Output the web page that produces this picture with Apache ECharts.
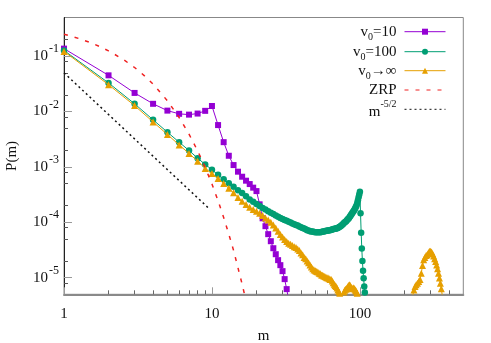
<!DOCTYPE html>
<html><head><meta charset="utf-8">
<script src="https://cdn.jsdelivr.net/npm/echarts@6/dist/echarts.min.js"></script>
<style>html,body{margin:0;padding:0;background:#fff}#c{width:491px;height:343px}</style>
</head><body><div id="c"></div>
<script>
// ---- data ----
const mV10 = [1,2,3,4,5,6,7,8,9,10,11,12,13,14,15,16,17,18,19,20,21,22,23,24,25,26,27,28,29,30,31,32,33];
const pV10 = [0.137,0.0451,0.0217,0.0138,0.0104,0.0091,0.0088,0.0092,0.0103,0.0126,0.0057,0.0028,0.00159,0.00108,0.00082,0.000665,0.000564,0.00049,0.000422,0.000366,2.11e-4,1.18e-4,8.5e-5,6.1e-5,4.55e-5,3.4e-5,2.65e-5,2.07e-5,1.68e-5,1.31e-5,9.4e-6,6.2e-6,4.0e-6];

const mV100 = [1,2,3,4,5,6,7,8,9,10,11,12,13,14,15,16,17,18,19,20,21,22,23,24,25,26,27,28,29,30,31,32,33,34,35,36,37,38,39,40,41,42,43,44,45,46,47,48,49,50,51,52,53,54,55,56,57,58,59,60,61,62,63,64,65,66,67,68,69,70,71,72,73,74,75,76,77,78,79,80,81,82,83,84,85,86,87,88,89,90,91,92,93,94,95,96,97,98,99,100,101,102,103,104,105,106,107,108];
const pV100 = [0.127,0.0329,0.0138,0.0071,0.00424,0.0028,0.00198,0.00144,0.00111,0.00089,0.00072,0.000596,0.000505,0.00044,
 3.80e-4,3.39e-4,2.95e-4,2.59e-4,2.34e-4,2.14e-4,1.97e-4,1.82e-4,1.70e-4,1.58e-4,
 1.48e-4,1.41e-4,1.33e-4,1.26e-4,1.20e-4,1.15e-4,1.10e-4,1.06e-4,1.02e-4,9.9e-5,
 9.5e-5,9.2e-5,8.9e-5,8.7e-5,8.4e-5,8.1e-5,7.9e-5,7.7e-5,7.5e-5,7.2e-5,
 7.1e-5,6.9e-5,6.8e-5,6.8e-5,6.7e-5,6.6e-5,
 6.6e-5,6.6e-5,6.6e-5,6.6e-5,6.7e-5,6.8e-5,6.8e-5,6.9e-5,7.0e-5,7.0e-5,
 7.1e-5,7.2e-5,7.2e-5,7.3e-5,7.4e-5,7.5e-5,7.6e-5,7.6e-5,7.7e-5,7.8e-5,
 7.9e-5,8.1e-5,8.3e-5,8.5e-5,8.7e-5,9.0e-5,9.3e-5,9.7e-5,1.0e-4,1.02e-4,
 1.05e-4,1.10e-4,1.14e-4,1.17e-4,1.23e-4,1.29e-4,1.35e-4,1.41e-4,1.48e-4,1.55e-4,
 1.62e-4,1.70e-4,1.80e-4,1.91e-4,2.04e-4,2.24e-4,2.51e-4,2.82e-4,3.16e-4,3.55e-4,
 1.45e-4,6.5e-5,3.36e-5,2.0e-5,1.33e-5,9.7e-6,6.9e-6,5.4e-6];

const mInf = [1,2,3,4,5,6,7,8,9,10,11,12,13,14,15,16,17,18,19,20,21,22,23,24,25,26,27,28,29,30,31,32,33,34,35,36,37,38,39,40,41,42,43,44,45,46,47,48,49,50,51,52,53,54,55,56,57,58,59,60,61,62,63,64,65,66,67,68,69,70,71,72,73,74,75,76,77,78,79,80,81,82,83,84,85,86,87,88,89,90,91,92,93,94,95,96,97,98];
const pInf = [0.122,0.0306,0.0128,0.0065,0.00385,0.0025,0.00175,0.00127,0.00094,0.00076,
 6.2e-4,5.0e-4,4.1e-4,3.4e-4,2.8e-4,2.4e-4,2.1e-4,1.86e-4,1.70e-4,1.58e-4,
 1.45e-4,1.32e-4,1.20e-4,1.10e-4,1.00e-4,8.9e-5,7.9e-5,6.9e-5,6.0e-5,5.4e-5,
 4.9e-5,4.5e-5,4.2e-5,4.0e-5,3.8e-5,3.6e-5,3.5e-5,3.3e-5,3.1e-5,2.8e-5,
 2.6e-5,2.3e-5,2.2e-5,2.0e-5,1.86e-5,1.70e-5,1.55e-5,1.45e-5,1.38e-5,1.33e-5,
 1.29e-5,1.26e-5,1.20e-5,1.17e-5,1.12e-5,1.10e-5,1.07e-5,1.05e-5,1.02e-5,1.00e-5,
 9.8e-6,9.5e-6,9.3e-6,9.3e-6,8.7e-6,8.1e-6,7.6e-6,7.2e-6,6.9e-6,6.5e-6,
 6.0e-6,5.6e-6,5.2e-6,4.0e-6,3.2e-6,3.5e-6,4.7e-6,5.5e-6,5.9e-6,6.2e-6,
 6.3e-6,6.6e-6,6.9e-6,7.2e-6,7.4e-6,7.2e-6,6.8e-6,6.5e-6,6.3e-6,6.5e-6,
 6.5e-6,6.3e-6,6.0e-6,5.8e-6,5.5e-6,5.2e-6,4.8e-6,4.0e-6];
const mInfFar = [228,232,236,240,245,250,255,260,265,270,275,280,285,290,295,300,305,310,315,320,325,330,335,340,345,350,355,360];
const pInfFar = [4.8e-6,6.0e-6,6.9e-6,7.4e-6,7.9e-6,8.5e-6,9.3e-6,1.20e-5,1.66e-5,2.1e-5,2.3e-5,2.5e-5,2.6e-5,2.8e-5,3.0e-5,3.0e-5,2.9e-5,2.7e-5,2.45e-5,2.2e-5,1.95e-5,1.70e-5,1.45e-5,1.20e-5,9.8e-6,7.9e-6,6.3e-6,4.9e-6];

const mZRP = [1,1.25,1.5,1.75,2,2.5,3,3.5,4,5,6,7,8,9,10,11,12,13,14,15,16,17];
const pZRP = [0.25,0.21,0.177,0.149,0.125,0.0884,0.0625,0.0442,0.0313,0.0157,0.0078,0.0039,0.00196,9.8e-4,4.9e-4,2.45e-4,1.22e-4,6.1e-5,3.1e-5,1.5e-5,7.6e-6,3.8e-6];

const mPow = [1, 9.6];
const pPow = [0.05, 1.75e-4];

const xMajorTicks = [1,10,100];
const xMinorTicks = [2,3,4,5,6,7,8,9,20,30,40,50,60,70,80,90,200,300,400];
const yMajorTicks = [1e-5,1e-4,1e-3,1e-2,1e-1];
const yMinorTicks = [8e-6,2e-5,5e-5,8e-5,2e-4,5e-4,8e-4,2e-3,5e-3,8e-3,2e-2,5e-2,8e-2,2e-1];

const seriesNames = ['v0=10','v0=100','v0→∞','ZRP','m^-5/2'];
const legendRich = {
  'v0=10': '{n|v}{sub|0}{n|=10}',
  'v0=100': '{n|v}{sub|0}{n|=100}',
  'v0→∞': '{n|v}{sub|0}{n|→∞}',
  'ZRP': '{n|ZRP}',
  'm^-5/2': '{m|m}{sup|-5/2}'
};

// ---- chart ----
const FONT = 'Liberation Serif';
const pair = (xs, ys) => xs.map((x, i) => [x, ys[i]]);
const chart = echarts.init(document.getElementById('c'), null, {renderer: 'canvas'});

const LH = 24;
const richStyles = {
  n: {fontFamily: FONT, fontSize: 15, color: '#111', lineHeight: LH},
  sub: {fontFamily: FONT, fontSize: 10, color: '#111', padding: [11, 0, 0, 0], lineHeight: LH},
  m: {fontFamily: FONT, fontSize: 15, color: '#111', padding: [6, 0, 0, 0], lineHeight: LH},
  sup: {fontFamily: FONT, fontSize: 10, color: '#111', padding: [0, 0, 9, 0], lineHeight: LH}
};
const rowY = [31.7, 51.7, 70.7, 90, 109.3];
const legends = seriesNames.map((nm, i) => ({
  data: [nm],
  orient: 'vertical',
  align: 'right',
  right: 45,
  top: rowY[i] - LH / 2,
  padding: 0,
  itemWidth: 41,
  itemHeight: 7.5,
  selectedMode: false,
  formatter: (name) => legendRich[name],
  lineStyle: {width: 1},
  itemStyle: i >= 3 ? {opacity: 0} : {},
  textStyle: {fontFamily: FONT, fontSize: 15, color: '#111', lineHeight: LH, padding: [0, 3, 0, 0], rich: richStyles}
}));

const xBase = {
  type: 'log', min: 1, max: 500, logBase: 10,
  splitLine: {show: false}, minorTick: {show: false}
};
const yBase = {
  type: 'log', min: 5e-6, max: 0.5, logBase: 10,
  splitLine: {show: false}, minorTick: {show: false}
};

chart.setOption({
  animation: false,
  backgroundColor: '#fff',
  grid: {left: 64, right: 27.7, top: 17.5, bottom: 48.7, show: true, borderColor: '#888', borderWidth: 1,
    containLabel: false, outerBoundsMode: 'none'},
  legend: legends,
  xAxis: [
    Object.assign({}, xBase, {
      position: 'bottom',
      name: 'm', nameLocation: 'middle', nameGap: 34,
      nameTextStyle: {fontFamily: FONT, fontSize: 15, color: '#111'},
      axisLine: {show: true, lineStyle: {color: '#8a8a8a', width: 2}},
      axisTick: {show: true, inside: true, length: 7, customValues: xMajorTicks, lineStyle: {color: '#999', width: 1}},
      axisLabel: {show: true, customValues: xMajorTicks, margin: 12, fontFamily: FONT, fontSize: 15, color: '#111',
        formatter: (v) => String(Math.round(v))}
    }),
    Object.assign({}, xBase, {
      position: 'bottom',
      axisLine: {show: false},
      axisTick: {show: true, inside: true, length: 4, customValues: xMinorTicks, lineStyle: {color: '#666', width: 1}},
      axisLabel: {show: false}
    })
  ],
  yAxis: [
    Object.assign({}, yBase, {
      position: 'left',
      name: 'P(m)', nameLocation: 'middle', nameGap: 44, nameRotate: 90,
      nameTextStyle: {fontFamily: FONT, fontSize: 15, color: '#111'},
      axisLine: {show: true, lineStyle: {color: '#222', width: 1}},
      axisTick: {show: true, inside: true, length: 8, customValues: yMajorTicks, lineStyle: {color: '#999', width: 1}},
      axisLabel: {show: true, customValues: yMajorTicks, margin: 5,
        formatter: (v) => '{b|10}{s|' + Math.round(Math.log10(v)) + '}',
        rich: {
          b: {fontFamily: FONT, fontSize: 15, color: '#111'},
          s: {fontFamily: FONT, fontSize: 12, color: '#111', padding: [0, 0, 14, 1]}
        }}
    }),
    Object.assign({}, yBase, {
      position: 'left',
      axisLine: {show: false},
      axisTick: {show: true, inside: true, length: 4, customValues: yMinorTicks, lineStyle: {color: '#555', width: 1}},
      axisLabel: {show: false}
    })
  ],
  series: [
    {name: 'v0=10', type: 'line', data: pair(mV10, pV10), symbol: 'rect', symbolSize: 6, showAllSymbol: true,
      color: '#9400d3', lineStyle: {width: 1, color: '#9400d3'}, itemStyle: {color: '#9400d3'}, clip: true, z: 2},
    {name: 'v0=100', type: 'line', data: pair(mV100, pV100), symbol: 'circle', symbolSize: 6.5, showAllSymbol: true,
      color: '#009e73', lineStyle: {width: 1, color: '#009e73'}, itemStyle: {color: '#009e73'}, clip: true, z: 3},
    {name: 'v0→∞', type: 'line', data: pair(mInf, pInf).concat(pair(mInfFar, pInfFar)), symbol: 'triangle', symbolSize: 7, showAllSymbol: true,
      color: '#e69f00', lineStyle: {width: 1, color: '#e69f00'}, itemStyle: {color: '#e69f00'}, clip: true, z: 4},
    {name: 'ZRP', type: 'line', data: pair(mZRP, pZRP), symbol: 'none', smooth: false,
      color: '#f02020', lineStyle: {width: 1.5, color: '#f02020', type: [4, 7]}, clip: true, z: 5},
    {name: 'm^-5/2', type: 'line', data: pair(mPow, pPow), symbol: 'none',
      color: '#111', lineStyle: {width: 1.5, color: '#111', type: [2, 3]}, clip: true, z: 6}
  ]
});
</script>
</body></html>
